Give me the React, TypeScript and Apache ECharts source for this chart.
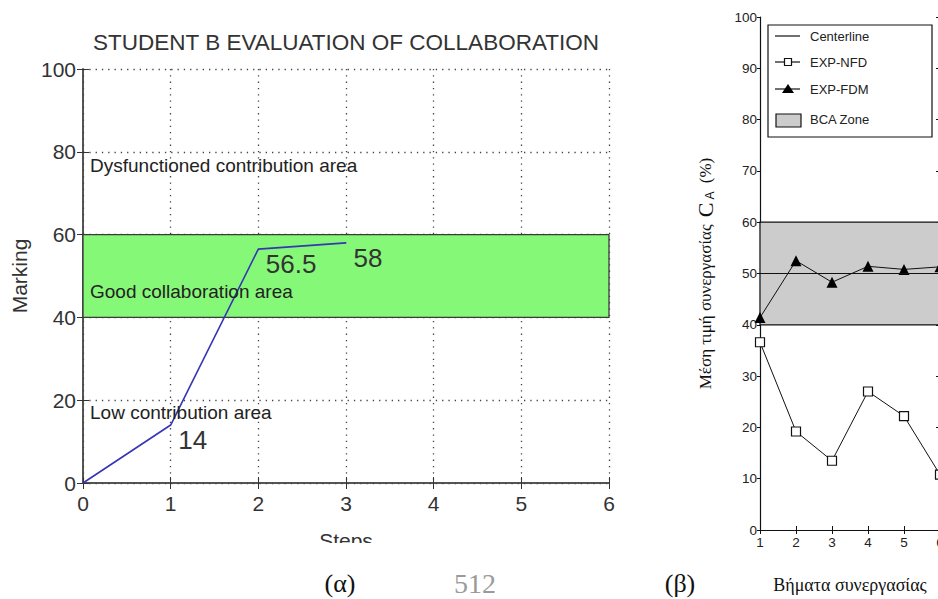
import React, { useEffect, useRef } from "react";
import * as echarts from "echarts";

// (α) Student B evaluation of collaboration
const stepsA = [0, 1, 2, 3];
const markingA = [0, 14, 56.5, 58];
const xTicksA = [0, 1, 2, 3, 4, 5, 6];
const yTicksA = [0, 20, 40, 60, 80, 100];
const areaTextsA = ["Dysfunctioned contribution area", "Good collaboration area", "Low contribution area"];
const goodZoneA = [40, 60];

// (β) collaboration steps
const stepsB = [1, 2, 3, 4, 5, 6];
const nfdB = [36.6, 19.2, 13.5, 27.0, 22.2, 10.8];
const fdmB = [41.4, 52.5, 48.3, 51.4, 50.8, 51.3];
const bcaZoneB = [40, 60];
const centerlineB = 50;
const legendB = ["Centerline", "EXP-NFD", "EXP-FDM", "BCA Zone"];

const SANS = "'Liberation Sans', Arial, Helvetica, sans-serif";
const SERIF = "'Liberation Serif', 'DejaVu Serif', 'Times New Roman', serif";

export default function App() {
  const ref = useRef<HTMLDivElement>(null);
  useEffect(() => {
    if (!ref.current) return;
    document.documentElement.style.overflow = "hidden";
    document.body.style.overflow = "hidden";
    const chart = echarts.init(ref.current, undefined, { renderer: "svg" });
    const axisLineA = { show: true, lineStyle: { color: "#4a4a4a", width: 1.5 } };
    const dotted = { show: true, lineStyle: { color: "#444", width: 1.3, type: [1.3, 5] as any } };
    const option: any = {
      animation: false,
      backgroundColor: "#ffffff",
      grid: [
        { left: 83, top: 69, width: 526, height: 414 },
        { left: 760, top: 17, width: 180, height: 522 },
      ],
      xAxis: [
        {
          gridIndex: 0, type: "value", min: xTicksA[0], max: xTicksA[xTicksA.length - 1], interval: 1,
          position: "bottom", axisLine: axisLineA,
          axisTick: { show: true, inside: true, length: 6, lineStyle: { color: "#333" } },
          axisLabel: { fontSize: 21, color: "#333", fontFamily: SANS, margin: 10 },
          splitLine: dotted,
          name: "Steps", nameLocation: "middle", nameGap: 47,
          nameTextStyle: { fontSize: 21, color: "#333", fontFamily: SANS },
        },
        {
          gridIndex: 0, type: "value", min: 0, max: 6, interval: 1, position: "top",
          axisLine: axisLineA, axisTick: { show: true, inside: true, length: 6, lineStyle: { color: "#333" } },
          axisLabel: { show: false }, splitLine: { show: false },
        },
        {
          gridIndex: 1, type: "value", min: stepsB[0], max: stepsB[stepsB.length - 1], interval: 1,
          position: "bottom", axisLine: { show: true, lineStyle: { color: "#111", width: 1.2 } },
          axisTick: { show: true, inside: true, length: 4, lineStyle: { color: "#111" } },
          axisLabel: { fontSize: 13.5, color: "#222", fontFamily: SANS, margin: 5 },
          splitLine: { show: false },
          name: "Βήματα συνεργασίας", nameLocation: "middle", nameGap: 46,
          nameTextStyle: { fontSize: 18, color: "#111", fontFamily: SERIF },
        },
        {
          gridIndex: 1, type: "value", min: 1, max: 6, interval: 1, position: "top",
          axisLine: { show: true, lineStyle: { color: "#111", width: 1.2 } },
          axisTick: { show: true, inside: true, length: 4, lineStyle: { color: "#111" } },
          axisLabel: { show: false }, splitLine: { show: false },
        },
      ],
      yAxis: [
        {
          gridIndex: 0, type: "value", min: yTicksA[0], max: yTicksA[yTicksA.length - 1], interval: 20,
          position: "left", axisLine: axisLineA,
          axisTick: { show: true, inside: true, length: 6, lineStyle: { color: "#333" } },
          axisLabel: { fontSize: 21, color: "#333", fontFamily: SANS, margin: 7 },
          splitLine: dotted,
          name: "Marking", nameLocation: "middle", nameGap: 50, nameRotate: 90,
          nameTextStyle: { fontSize: 21, color: "#333", fontFamily: SANS },
        },
        {
          gridIndex: 0, type: "value", min: 0, max: 100, interval: 20, position: "right",
          axisLine: axisLineA, axisTick: { show: true, inside: true, length: 6, lineStyle: { color: "#333" } },
          axisLabel: { show: false }, splitLine: { show: false },
        },
        {
          gridIndex: 1, type: "value", min: 0, max: 100, interval: 10, position: "left",
          axisLine: { show: true, lineStyle: { color: "#111", width: 1.2 } },
          axisTick: { show: true, inside: false, length: 3, lineStyle: { color: "#111" } },
          axisLabel: { fontSize: 13.5, color: "#222", fontFamily: SANS, margin: 3 },
          splitLine: { show: false },
          name: "Μέση τιμή συνεργασίας {c|C}{s|A} (%)", nameLocation: "middle", nameGap: 44, nameRotate: 90,
          nameTextStyle: {
            fontSize: 17, color: "#111", fontFamily: SERIF,
            rich: {
              c: { fontSize: 22, fontFamily: SERIF, color: "#111", padding: [0, 3, 0, 3] },
              s: { fontSize: 12, fontFamily: SANS, color: "#111", verticalAlign: "bottom", padding: [10, 4, 0, 0] },
            },
          },
        },
        {
          gridIndex: 1, type: "value", min: 0, max: 100, interval: 10, position: "right",
          axisLine: { show: true, lineStyle: { color: "#111", width: 1.2 } },
          axisTick: { show: true, inside: true, length: 4, lineStyle: { color: "#111" } },
          axisLabel: { show: false }, splitLine: { show: false },
        },
      ],
      series: [
        {
          type: "line", xAxisIndex: 0, yAxisIndex: 0,
          data: stepsA.map((s, i) => [s, markingA[i]]),
          showSymbol: true, symbol: "circle", symbolSize: 1,
          itemStyle: { color: "#3535b5" },
          lineStyle: { color: "#3535b5", width: 1.6 },
          label: {
            show: true, position: "right", distance: 7, offset: [0, 15],
            fontSize: 26, color: "#333", fontFamily: SANS,
            formatter: (p: any) => (p.dataIndex === 0 ? "" : String(p.value[1])),
          },
          markArea: {
            silent: true,
            itemStyle: { color: "#86f878", borderColor: "#3a3a3a", borderWidth: 1.3 },
            data: [[{ yAxis: goodZoneA[0] }, { yAxis: goodZoneA[1] }]],
          },
          z: 3,
        },
        {
          type: "line", xAxisIndex: 2, yAxisIndex: 2,
          data: stepsB.map((s, i) => [s, fdmB[i]]),
          symbol: "triangle", symbolSize: 11,
          itemStyle: { color: "#000" },
          lineStyle: { color: "#111", width: 1 },
          markArea: {
            silent: true,
            itemStyle: { color: "#cccccc", borderColor: "#111", borderWidth: 1.2 },
            data: [[{ yAxis: bcaZoneB[0] }, { yAxis: bcaZoneB[1] }]],
          },
          markLine: {
            silent: true, symbol: "none", label: { show: false },
            lineStyle: { color: "#111", width: 1.2, type: "solid" },
            data: [{ yAxis: centerlineB }],
          },
          z: 3,
        },
        {
          type: "line", xAxisIndex: 2, yAxisIndex: 2,
          data: stepsB.map((s, i) => [s, nfdB[i]]),
          symbol: "rect", symbolSize: 9,
          itemStyle: { color: "#ffffff", borderColor: "#111", borderWidth: 1.2 },
          lineStyle: { color: "#111", width: 1 },
          z: 4,
        },
      ],
      graphic: [
        {
          type: "text", x: 346, y: 42,
          style: { text: "STUDENT B EVALUATION OF COLLABORATION", fontSize: 22.5, fill: "#333", fontFamily: SANS, align: "center", verticalAlign: "middle" },
        },
        {
          type: "text", x: 90, y: 165,
          style: { text: areaTextsA[0], fontSize: 19, fill: "#222", fontFamily: SANS, verticalAlign: "middle" }, z: 10,
        },
        {
          type: "text", x: 90, y: 291,
          style: { text: areaTextsA[1], fontSize: 19, fill: "#222", fontFamily: SANS, verticalAlign: "middle" }, z: 10,
        },
        {
          type: "text", x: 90, y: 412,
          style: { text: areaTextsA[2], fontSize: 19, fill: "#222", fontFamily: SANS, verticalAlign: "middle" }, z: 10,
        },
        // cropped bottom of the (α) figure
        { type: "rect", shape: { x: 250, y: 543, width: 200, height: 22 }, style: { fill: "#ffffff" }, z: 100 },
        {
          type: "text", x: 340, y: 583,
          style: { text: "(α)", fontSize: 26, fill: "#111", fontFamily: SERIF, align: "center", verticalAlign: "middle" },
        },
        {
          type: "text", x: 475, y: 583,
          style: { text: "512", fontSize: 28, fill: "#9a9a9a", fontFamily: SERIF, align: "center", verticalAlign: "middle" },
        },
        {
          type: "text", x: 680, y: 583,
          style: { text: "(β)", fontSize: 26, fill: "#111", fontFamily: SERIF, align: "center", verticalAlign: "middle" },
        },
        // legend of (β)
        {
          type: "group", z: 50,
          children: [
            { type: "rect", shape: { x: 768, y: 25, width: 164, height: 112 }, style: { fill: "#fff", stroke: "#111", lineWidth: 1.2 } },
            { type: "line", shape: { x1: 775, y1: 36, x2: 800, y2: 36 }, style: { stroke: "#111", lineWidth: 1.2 } },
            { type: "text", x: 810, y: 36, style: { text: legendB[0], fontSize: 13, fill: "#222", fontFamily: SANS, verticalAlign: "middle" } },
            { type: "line", shape: { x1: 775, y1: 62, x2: 800, y2: 62 }, style: { stroke: "#111", lineWidth: 1.2 } },
            { type: "rect", shape: { x: 784.5, y: 58.5, width: 7, height: 7 }, style: { fill: "#fff", stroke: "#111", lineWidth: 1.2 } },
            { type: "text", x: 810, y: 62, style: { text: legendB[1], fontSize: 13, fill: "#222", fontFamily: SANS, verticalAlign: "middle" } },
            { type: "line", shape: { x1: 775, y1: 89, x2: 800, y2: 89 }, style: { stroke: "#111", lineWidth: 1.2 } },
            { type: "polygon", shape: { points: [[788, 84], [794, 93], [782, 93]] }, style: { fill: "#000" } },
            { type: "text", x: 810, y: 89, style: { text: legendB[2], fontSize: 13, fill: "#222", fontFamily: SANS, verticalAlign: "middle" } },
            { type: "rect", shape: { x: 776, y: 114, width: 25, height: 13 }, style: { fill: "#cccccc", stroke: "#111", lineWidth: 1.2 } },
            { type: "text", x: 810, y: 119, style: { text: legendB[3], fontSize: 13, fill: "#222", fontFamily: SANS, verticalAlign: "middle" } },
          ],
        },
      ],
    };
    chart.setOption(option);
    return () => chart.dispose();
  }, []);
  return (
    <div
      ref={ref}
      style={{ position: "fixed", left: 0, top: 0, width: 960, height: 599, background: "#fff" }}
    />
  );
}
